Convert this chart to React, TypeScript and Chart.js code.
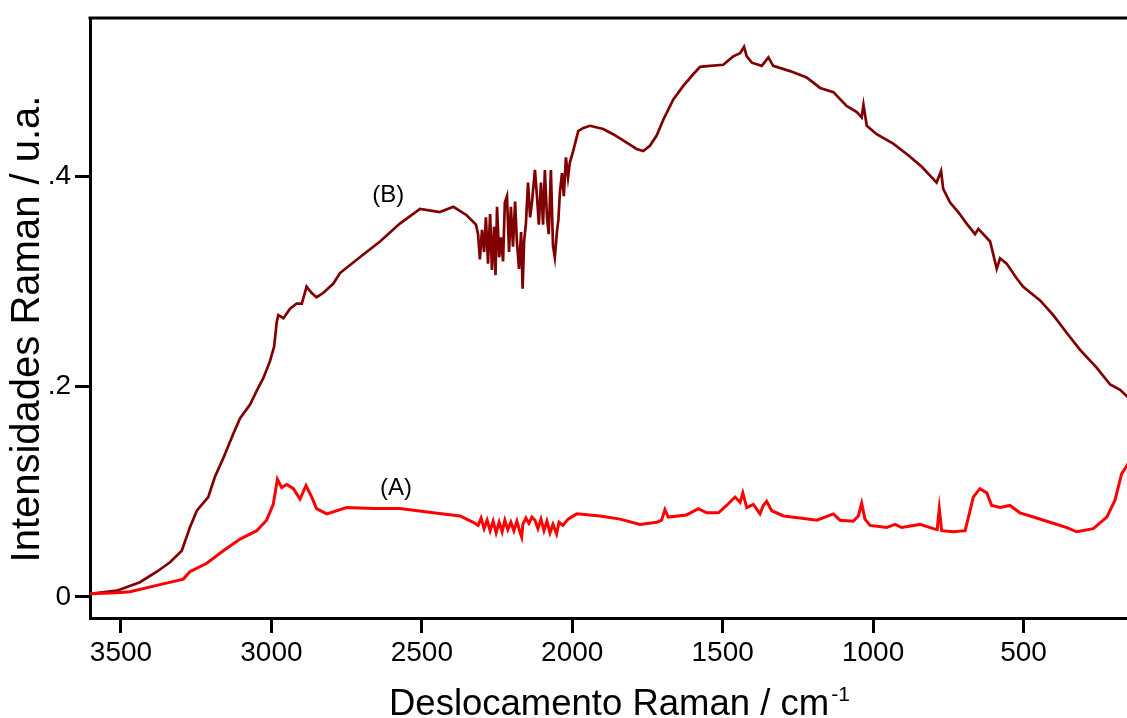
import React, { useEffect, useRef } from 'react';
import { Chart, registerables } from 'chart.js';

Chart.register(...registerables);

// Raman shift (cm-1) and intensity (u.a.) for spectrum (A)
const shiftA = [
  3603, 3514, 3470, 3381, 3293, 3271, 3215, 3160, 3104, 3049, 3016, 2994, 2980, 2966, 2949, 2927,
  2905, 2885, 2866, 2850, 2816, 2750, 2661, 2573, 2462, 2373, 2329,
  2313, 2303, 2293, 2283, 2273, 2263, 2253, 2243, 2233, 2224, 2214, 2204, 2194, 2184, 2174, 2168,
  2164, 2154, 2144, 2134, 2124, 2114, 2104, 2094, 2084, 2074, 2064, 2052, 2044, 2031, 2014, 1985,
  1908, 1841, 1775, 1719, 1703, 1692, 1681, 1620, 1581, 1553, 1514, 1487, 1459, 1442, 1433, 1420,
  1398, 1376, 1365, 1354, 1337, 1298, 1243, 1187, 1132, 1110, 1066, 1049, 1038, 1027, 1010, 955,
  927, 905, 844, 800, 787, 780, 772, 733, 694, 683, 667, 645, 622, 606, 578, 545, 512, 467, 412,
  356, 323, 268, 223, 196, 174, 156, 150,
];
const intensityA = [
  0.003, 0.004, 0.005, 0.011, 0.017, 0.024, 0.032, 0.044, 0.055, 0.063, 0.073, 0.088, 0.112, 0.104, 0.107, 0.103,
  0.093, 0.106, 0.095, 0.084, 0.079, 0.085, 0.084, 0.084, 0.080, 0.077, 0.071,
  0.068, 0.075, 0.065, 0.073, 0.063, 0.072, 0.061, 0.071, 0.062, 0.073, 0.064, 0.071, 0.063, 0.072, 0.062, 0.057,
  0.069, 0.075, 0.070, 0.076, 0.073, 0.065, 0.074, 0.063, 0.072, 0.061, 0.069, 0.060, 0.071, 0.068, 0.074, 0.079,
  0.077, 0.074, 0.069, 0.071, 0.073, 0.083, 0.076, 0.078, 0.084, 0.080, 0.080, 0.087, 0.095, 0.090, 0.099, 0.085,
  0.088, 0.079, 0.087, 0.091, 0.082, 0.077, 0.075, 0.073, 0.079, 0.073, 0.072, 0.077, 0.089, 0.074, 0.068, 0.066,
  0.069, 0.066, 0.069, 0.065, 0.064, 0.084, 0.063, 0.062, 0.063, 0.076, 0.095, 0.103, 0.099, 0.087, 0.085, 0.087, 0.080, 0.076, 0.071,
  0.066, 0.062, 0.065, 0.076, 0.092, 0.117, 0.125, 0.128,
];

// Raman shift (cm-1) and intensity (u.a.) for spectrum (B)
const shiftB = [
  3603, 3514, 3437, 3381, 3337, 3298, 3271, 3248, 3210, 3188, 3160, 3127, 3104, 3071, 3049, 3027,
  3005, 2991, 2982, 2977, 2960, 2938, 2916, 2899, 2883, 2866, 2850, 2828, 2794, 2772, 2706, 2639,
  2573, 2506, 2440, 2395, 2351,
  2320, 2313, 2307, 2300, 2293, 2287, 2280, 2273, 2267, 2260, 2255, 2250, 2243, 2237, 2230, 2224,
  2217, 2210, 2204, 2197, 2190, 2184, 2177, 2170, 2165, 2160, 2154, 2147, 2140, 2134, 2124, 2117,
  2111, 2104, 2097, 2091, 2084, 2078, 2071, 2064, 2058, 2051, 2046, 2041, 2034, 2028, 2021, 2014,
  2008, 1998,
  1980, 1963, 1941, 1897, 1864, 1819, 1786, 1764, 1742, 1719, 1697, 1664, 1631, 1598, 1575, 1542,
  1498, 1465, 1442, 1429, 1420, 1403, 1370, 1348, 1332, 1276, 1221, 1176, 1132, 1088, 1054, 1038,
  1032, 1021, 988, 933, 883, 838, 789, 774, 767, 744, 717, 689, 661, 650, 611, 589, 578, 556, 523,
  501, 445, 401, 356, 312, 257, 212, 179, 157, 150,
];
const intensityB = [
  0.003, 0.006, 0.014, 0.024, 0.033, 0.044, 0.066, 0.082, 0.095, 0.114, 0.132, 0.155, 0.170, 0.183, 0.196, 0.208,
  0.224, 0.238, 0.262, 0.268, 0.265, 0.274, 0.279, 0.279, 0.295, 0.289, 0.285, 0.289, 0.298, 0.308, 0.323, 0.338,
  0.355, 0.369, 0.366, 0.371, 0.363,
  0.354, 0.345, 0.321, 0.349, 0.328, 0.361, 0.317, 0.364, 0.311, 0.352, 0.306, 0.371, 0.323, 0.342, 0.319, 0.375,
  0.381, 0.328, 0.371, 0.333, 0.376, 0.338, 0.312, 0.347, 0.293, 0.338, 0.355, 0.394, 0.361, 0.375, 0.406, 0.380,
  0.354, 0.394, 0.354, 0.406, 0.361, 0.345, 0.406, 0.334, 0.323, 0.347, 0.359, 0.385, 0.403, 0.381, 0.418, 0.399,
  0.413, 0.423,
  0.443, 0.446, 0.448, 0.445, 0.440, 0.432, 0.426, 0.424, 0.429, 0.439, 0.454, 0.473, 0.486, 0.497, 0.504, 0.505,
  0.506, 0.514, 0.517, 0.523, 0.514, 0.508, 0.505, 0.513, 0.505, 0.500, 0.494, 0.484, 0.480, 0.467, 0.461, 0.456,
  0.468, 0.448, 0.440, 0.431, 0.420, 0.409, 0.394, 0.405, 0.388, 0.375, 0.366, 0.355, 0.345, 0.350, 0.338, 0.312, 0.322, 0.317, 0.303,
  0.295, 0.282, 0.268, 0.251, 0.235, 0.218, 0.202, 0.197, 0.191, 0.189,
];

const xTickValues = [3500, 3000, 2500, 2000, 1500, 1000, 500];
const yTickValues = [0, 0.2, 0.4];

const seriesNames = ['(A)', '(B)'];
// label anchors in data units: [shift, intensity]
const labelAnchors: [number, number][] = [
  [2586, 0.103],
  [2612, 0.382],
];

const xTitle = 'Deslocamento Raman / cm';
const xTitleSup = '-1';
const yTitle = 'Intensidades Raman / u.a.';

const FONT = '"Liberation Sans", Arial, Helvetica, sans-serif';

const toPoints = (xs: number[], ys: number[]) => xs.map((x, i) => ({ x, y: ys[i] }));

const decorations = {
  id: 'decorations',
  afterDraw(chart: any) {
    const { ctx, chartArea, scales } = chart;
    ctx.save();

    // top edge of the frame
    ctx.strokeStyle = '#000';
    ctx.lineWidth = 3;
    ctx.beginPath();
    ctx.moveTo(chartArea.left - 1.5, chartArea.top);
    ctx.lineTo(chart.width, chartArea.top);
    ctx.stroke();

    // spectrum labels
    ctx.fillStyle = '#000';
    ctx.font = `24px ${FONT}`;
    ctx.textAlign = 'center';
    ctx.textBaseline = 'middle';
    labelAnchors.forEach(([sx, sy], i) => {
      ctx.fillText(seriesNames[i], scales.x.getPixelForValue(sx), scales.y.getPixelForValue(sy));
    });

    // y axis title
    ctx.save();
    ctx.translate(39, 329);
    ctx.rotate(-Math.PI / 2);
    ctx.font = `40px ${FONT}`;
    ctx.textAlign = 'center';
    ctx.textBaseline = 'alphabetic';
    ctx.fillText(yTitle, 0, 0);
    ctx.restore();

    // x axis title with superscript unit exponent
    ctx.font = `36.5px ${FONT}`;
    ctx.textAlign = 'left';
    ctx.textBaseline = 'alphabetic';
    const mainX = 389;
    ctx.fillText(xTitle, mainX, 715);
    const w = ctx.measureText(xTitle).width;
    ctx.font = `21px ${FONT}`;
    ctx.fillText(xTitleSup, mainX + w + 2, 701);

    ctx.restore();
  },
};

export default function App() {
  const canvasRef = useRef<HTMLCanvasElement>(null);

  useEffect(() => {
    const canvas = canvasRef.current;
    if (!canvas) return;
    const chart = new Chart(canvas, {
      type: 'line',
      data: {
        datasets: [
          {
            label: seriesNames[0],
            data: toPoints(shiftA, intensityA),
            borderColor: '#ff0000',
            borderWidth: 3,
            pointRadius: 0,
            tension: 0,
            fill: false,
          },
          {
            label: seriesNames[1],
            data: toPoints(shiftB, intensityB),
            borderColor: '#800000',
            borderWidth: 2.7,
            pointRadius: 0,
            tension: 0,
            fill: false,
          },
        ],
      },
      options: {
        animation: false,
        responsive: false,
        devicePixelRatio: 1,
        parsing: false,
        layout: { padding: { top: 15, left: 0, right: 0, bottom: 0 } },
        plugins: {
          legend: { display: false },
          tooltip: { enabled: false },
        },
        scales: {
          x: {
            type: 'linear',
            reverse: true,
            min: 156,
            max: 3603,
            afterBuildTicks: (scale: any) => {
              scale.ticks = xTickValues.map((value) => ({ value }));
            },
            afterFit: (scale: any) => {
              scale.height = 100;
            },
            ticks: {
              color: '#000',
              font: { family: FONT, size: 28, lineHeight: 1 },
              padding: 6,
              maxRotation: 0,
              autoSkip: false,
              callback: (v: any) => String(v),
            },
            grid: {
              drawOnChartArea: false,
              drawTicks: true,
              tickLength: 15,
              tickWidth: 3,
              tickColor: '#000',
              color: '#000',
            },
            border: { display: true, color: '#000', width: 3 },
          },
          y: {
            type: 'linear',
            min: -0.02,
            max: 0.5505,
            afterBuildTicks: (scale: any) => {
              scale.ticks = yTickValues.map((value) => ({ value }));
            },
            afterFit: (scale: any) => {
              scale.width = 90;
            },
            ticks: {
              color: '#000',
              font: { family: FONT, size: 28, lineHeight: 1 },
              padding: 4,
              callback: (v: any) => {
                const n = Number(v);
                if (n === 0) return '0';
                return n.toFixed(1).replace(/^0/, '');
              },
            },
            grid: {
              drawOnChartArea: false,
              drawTicks: true,
              tickLength: 15,
              tickWidth: 3,
              tickColor: '#000',
              color: '#000',
            },
            border: { display: true, color: '#000', width: 3 },
          },
        },
      },
      plugins: [decorations],
    });
    return () => chart.destroy();
  }, []);

  return (
    <div style={{ position: 'fixed', left: 0, top: 0, width: 1127, height: 718, background: '#fff' }}>
      <canvas ref={canvasRef} width={1127} height={718} style={{ display: 'block' }} />
    </div>
  );
}
